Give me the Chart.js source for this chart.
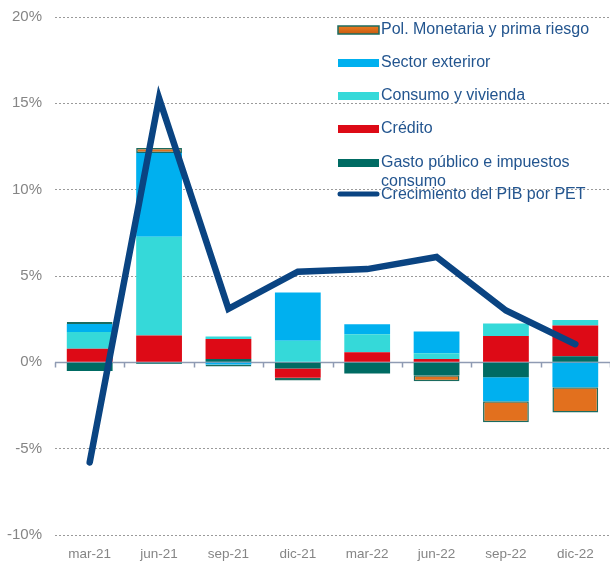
<!DOCTYPE html>
<html>
<head>
<meta charset="utf-8">
<script src="https://cdn.jsdelivr.net/npm/chart.js@4.4.1/dist/chart.umd.min.js"></script>
<style>
  html, body { margin: 0; padding: 0; background: #ffffff; }
  #wrap { position: relative; width: 610px; height: 561px; }
</style>
</head>
<body>
<div id="wrap"><canvas id="c" width="610" height="561"></canvas></div>
<script>
const categories = ['mar-21', 'jun-21', 'sep-21', 'dic-21', 'mar-22', 'jun-22', 'sep-22', 'dic-22'];
const gastoPublico = [-0.5, -0.08, 0.2, -0.35, -0.65, -0.75, -0.87, 0.35];
const credito = [0.78, 1.55, 1.15, -0.55, 0.58, 0.2, 1.52, 1.79];
const consumoVivienda = [0.98, 5.72, 0.15, 1.25, 1.04, 0.33, 0.73, 0.31];
const sectorExterior = [0.46, 4.85, -0.12, 2.8, 0.58, 1.25, -1.39, -1.45];
const polMonetaria = [0.12, 0.3, -0.12, -0.15, 0, -0.35, -1.21, -1.45];
const crecimientoPIB = [-5.8, 15.3, 3.1, 5.25, 5.4, 6.1, 3.0, 1.05];
const yTicks = [-10, -5, 0, 5, 10, 15, 20];

const COLORS = {
  gasto: '#006b63',
  credito: '#dd0a16',
  consumo: '#35d9d9',
  exterior: '#00b0ef',
  pol: '#e2701e',
  polBorder: '#1b6b5f',
  line: '#0a4482',
  text: '#23558f',
  axisText: '#858585'
};

const legendItems = [
  { label: ['Pol. Monetaria y prima riesgo'], type: 'pol' },
  { label: ['Sector exteriror'], color: COLORS.exterior },
  { label: ['Consumo y vivienda'], color: COLORS.consumo },
  { label: ['Crédito'], color: COLORS.credito },
  { label: ['Gasto público e impuestos', 'consumo'], color: COLORS.gasto },
  { label: ['Crecimiento del PIB por PET'], type: 'line' }
];

const customLegend = {
  id: 'customLegend',
  afterDraw(chart) {
    const ctx = chart.ctx;
    ctx.save();
    ctx.setLineDash([]);
    ctx.font = '16px "Liberation Sans", Arial, sans-serif';
    ctx.textBaseline = 'middle';
    ctx.textAlign = 'left';
    const ys = [30, 63, 96, 129, 163, 195];
    const sx = 338, sw = 41, tx = 381;
    legendItems.forEach((it, i) => {
      const y = ys[i];
      if (it.type === 'pol') {
        const g = ctx.createLinearGradient(0, y - 4, 0, y + 4);
        g.addColorStop(0, '#ec7a20');
        g.addColorStop(1, '#c85c12');
        ctx.fillStyle = g;
        ctx.fillRect(sx, y - 4, sw, 8);
        ctx.strokeStyle = COLORS.polBorder;
        ctx.lineWidth = 1.5;
        ctx.strokeRect(sx, y - 4, sw, 8);
      } else if (it.type === 'line') {
        ctx.strokeStyle = COLORS.line;
        ctx.lineWidth = 5;
        ctx.lineCap = 'round';
        ctx.beginPath();
        ctx.moveTo(sx + 2, y - 1);
        ctx.lineTo(sx + sw - 2, y - 1);
        ctx.stroke();
      } else {
        ctx.fillStyle = it.color;
        ctx.fillRect(sx, y - 4, sw, 8);
      }
      ctx.fillStyle = COLORS.text;
      it.label.forEach((t, k) => {
        ctx.fillText(t, tx, y + k * 19);
      });
    });
    ctx.restore();
  }
};

const zeroAxis = {
  id: 'zeroAxis',
  beforeDatasetsDraw(chart) {
    const ctx = chart.ctx;
    const ys = chart.scales.y, xs = chart.scales.x;
    const y0 = Math.round(ys.getPixelForValue(0)) + 0.5;
    const area = chart.chartArea;
    ctx.save();
    ctx.setLineDash([]);
    ctx.strokeStyle = '#8f9bb3';
    ctx.lineWidth = 1.5;
    ctx.beginPath();
    ctx.moveTo(area.left, y0);
    ctx.lineTo(area.right, y0);
    const step = xs.getPixelForValue(1) - xs.getPixelForValue(0);
    for (let i = 0; i <= categories.length; i++) {
      const x = Math.round(xs.getPixelForValue(i) - step / 2) + 0.5;
      ctx.moveTo(x, y0);
      ctx.lineTo(x, y0 + 5);
    }
    ctx.stroke();
    ctx.restore();
  }
};

const barDefaults = { type: 'bar', stack: 'bars', order: 1, barPercentage: 0.66, categoryPercentage: 1.0, borderWidth: 0 };

new Chart(document.getElementById('c'), {
  data: {
    labels: categories,
    datasets: [
      { ...barDefaults, label: 'Gasto público e impuestos consumo', data: gastoPublico, backgroundColor: COLORS.gasto },
      { ...barDefaults, label: 'Crédito', data: credito, backgroundColor: COLORS.credito },
      { ...barDefaults, label: 'Consumo y vivienda', data: consumoVivienda, backgroundColor: COLORS.consumo },
      { ...barDefaults, label: 'Sector exteriror', data: sectorExterior, backgroundColor: COLORS.exterior },
      { ...barDefaults, label: 'Pol. Monetaria y prima riesgo', data: polMonetaria, backgroundColor: COLORS.pol,
        borderColor: COLORS.polBorder, borderWidth: 1.5, borderSkipped: false },
      { type: 'line', label: 'Crecimiento del PIB por PET', data: crecimientoPIB, stack: 'line', order: 0,
        borderColor: COLORS.line, borderWidth: 6.5, pointRadius: 0, tension: 0,
        borderCapStyle: 'round', borderJoinStyle: 'miter', fill: false }
    ]
  },
  options: {
    responsive: false,
    animation: false,
    layout: { padding: { top: 17, right: 0, left: 0, bottom: 0 } },
    plugins: { legend: { display: false }, tooltip: { enabled: false } },
    scales: {
      x: {
        stacked: true,
        grid: { display: false },
        border: { display: false },
        ticks: { color: COLORS.axisText, font: { family: '"Liberation Sans", Arial, sans-serif', size: 13.5 }, padding: 3, maxRotation: 0 },
        afterFit(s) { s.height = 26; s.paddingLeft = 0; s.paddingRight = 0; }
      },
      y: {
        stacked: true,
        min: -10, max: 20,
        afterBuildTicks(s) { s.ticks = yTicks.map(v => ({ value: v })); },
        grid: {
          color: (c) => (c.tick && c.tick.value === 0) ? 'rgba(0,0,0,0)' : '#9a9a9a',
          lineWidth: 1,
          drawTicks: false
        },
        border: { display: false, dash: [2, 2] },
        ticks: {
          color: COLORS.axisText,
          font: { family: '"Liberation Sans", Arial, sans-serif', size: 15 },
          padding: 13,
          callback: (v) => v + '%'
        },
        afterFit(s) { s.width = 55; s.paddingTop = 0; s.paddingBottom = 0; }
      }
    }
  },
  plugins: [zeroAxis, customLegend]
});
</script>
</body>
</html>
